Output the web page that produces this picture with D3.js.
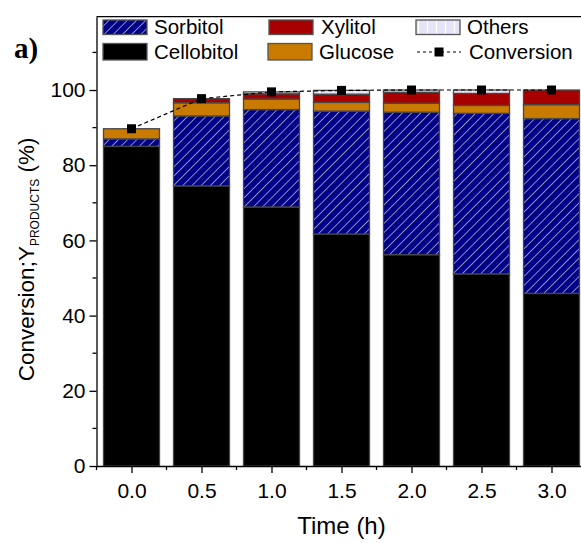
<!DOCTYPE html>
<html>
<head>
<meta charset="utf-8">
<script src="https://cdn.jsdelivr.net/npm/d3@7"></script>
<style>
  html, body { margin: 0; padding: 0; background: #fff; }
  svg { display: block; font-family: "Liberation Sans", Arial, sans-serif; }
</style>
</head>
<body>
<svg id="chart" width="581" height="543"></svg>
<script>
// Reaction time (h) and product yields (%) stacked per time point
const times = [0.0, 0.5, 1.0, 1.5, 2.0, 2.5, 3.0];
const cellobitol = [85.0, 74.5, 68.9, 61.7, 56.2, 51.1, 45.9];
const sorbitol   = [2.0, 18.6, 25.9, 32.7, 37.9, 42.7, 46.5];
const glucose    = [2.7, 3.5, 2.8, 2.3, 2.4, 2.1, 3.7];
const xylitol    = [0.0, 1.1, 1.4, 2.2, 2.9, 3.2, 3.9];
const others     = [0.0, 0.0, 0.5, 1.0, 0.6, 0.9, 0.0];
const conversion = [89.7, 97.7, 99.5, 99.9, 100.0, 100.0, 100.0];

const xTickValues = [0.0, 0.5, 1.0, 1.5, 2.0, 2.5, 3.0];
const yTickValues = [0, 20, 40, 60, 80, 100];

const seriesKeys = ["Cellobitol", "Sorbitol", "Glucose", "Xylitol", "Others"];
const seriesData = { Cellobitol: cellobitol, Sorbitol: sorbitol, Glucose: glucose, Xylitol: xylitol, Others: others };
const fills = {
  Cellobitol: "#000000",
  Sorbitol: "url(#hatchSorbitol)",
  Glucose: "#c97a00",
  Xylitol: "#a80000",
  Others: "url(#hatchOthers)"
};

const rows = times.map((t, i) => {
  const r = { time: t };
  seriesKeys.forEach(k => r[k] = seriesData[k][i]);
  return r;
});

const svg = d3.select("#chart");
const plotLeft = 96.5, plotBottom = 466, plotTop = 16.7, plotRight = 586.5;

const x = d3.scaleLinear().domain([-0.25, 3.25]).range([plotLeft, plotRight]);
const y = d3.scaleLinear().domain([0, 119.5]).range([plotBottom, plotTop]);

// Patterns
const defs = svg.append("defs");
const ps = defs.append("pattern").attr("id", "hatchSorbitol")
  .attr("patternUnits", "userSpaceOnUse").attr("width", 6.5).attr("height", 6.5)
  .attr("patternTransform", "rotate(45)");
ps.append("rect").attr("width", 6.5).attr("height", 6.5).attr("fill", "#000088");
ps.append("line").attr("x1", 0).attr("y1", 0).attr("x2", 0).attr("y2", 6.5)
  .attr("stroke", "#b8b8c8").attr("stroke-width", 1.5);

const po = defs.append("pattern").attr("id", "hatchOthers")
  .attr("patternUnits", "userSpaceOnUse").attr("width", 9).attr("height", 9);
po.append("rect").attr("width", 9).attr("height", 9).attr("fill", "#e4e4f6");
po.append("line").attr("x1", 4.5).attr("y1", 0).attr("x2", 4.5).attr("y2", 9)
  .attr("stroke", "#ffffff").attr("stroke-width", 1.2);

// Stacked bars
const stack = d3.stack().keys(seriesKeys);
const layers = stack(rows);
const barW = x(0.4) - x(0);

svg.append("g").selectAll("g").data(layers).join("g")
  .attr("fill", d => fills[d.key])
  .selectAll("rect").data(d => d.filter(s => s[1] - s[0] > 0)).join("rect")
  .attr("x", d => x(d.data.time) - barW / 2)
  .attr("width", barW)
  .attr("y", d => y(d[1]))
  .attr("height", d => y(d[0]) - y(d[1]))
  .attr("stroke", "#474747")
  .attr("stroke-width", 1.3);

// Conversion line and markers
const line = d3.line().x((d, i) => x(times[i])).y(d => y(d));
svg.append("path").datum(conversion)
  .attr("d", line)
  .attr("fill", "none").attr("stroke", "#000").attr("stroke-width", 1.2)
  .attr("stroke-dasharray", "4,3");
svg.append("g").selectAll("rect").data(conversion).join("rect")
  .attr("x", (d, i) => x(times[i]) - 4.5)
  .attr("y", d => y(d) - 4.5)
  .attr("width", 9).attr("height", 9).attr("fill", "#000");

// Axes
const xAxis = d3.axisBottom(x).tickValues(xTickValues).tickFormat(d3.format(".1f"))
  .tickSize(7).tickSizeOuter(0).tickPadding(10);
const gx = svg.append("g").attr("transform", `translate(0,${plotBottom})`).call(xAxis);
gx.selectAll("text").attr("font-size", 21).attr("fill", "#000")
  .attr("font-family", "Liberation Sans, Arial, sans-serif");
gx.select(".domain").attr("stroke", "#000").attr("stroke-width", 1.3);
gx.selectAll(".tick line").attr("stroke", "#000").attr("stroke-width", 1.3);
// minor x ticks
svg.append("g").selectAll("line").data(d3.range(-0.25, 3.3, 0.5)).join("line")
  .attr("x1", d => x(d)).attr("x2", d => x(d))
  .attr("y1", plotBottom).attr("y2", plotBottom + 4)
  .attr("stroke", "#000").attr("stroke-width", 1.3);

const yAxis = d3.axisLeft(y).tickValues(yTickValues).tickSize(7).tickSizeOuter(0).tickPadding(4);
const gy = svg.append("g").attr("transform", `translate(${plotLeft},0)`).call(yAxis);
gy.selectAll("text").attr("font-size", 21).attr("fill", "#000")
  .attr("font-family", "Liberation Sans, Arial, sans-serif");
gy.select(".domain").attr("stroke", "#000").attr("stroke-width", 1.3);
gy.selectAll(".tick line").attr("stroke", "#000").attr("stroke-width", 1.3);
// minor y ticks
svg.append("g").selectAll("line").data(d3.range(10, 120, 20)).join("line")
  .attr("x1", plotLeft - 4).attr("x2", plotLeft)
  .attr("y1", d => y(d)).attr("y2", d => y(d))
  .attr("stroke", "#000").attr("stroke-width", 1.3);

// Top and right frame lines
svg.append("line").attr("x1", plotLeft).attr("x2", plotRight).attr("y1", plotTop).attr("y2", plotTop)
  .attr("stroke", "#000").attr("stroke-width", 1.3);
svg.append("line").attr("x1", plotRight).attr("x2", plotRight).attr("y1", plotTop).attr("y2", plotBottom)
  .attr("stroke", "#000").attr("stroke-width", 1.3);

// Legend
const legendItems = [
  { label: "Sorbitol",   fill: fills.Sorbitol,   sx: 103, tx: 154, row: 0 },
  { label: "Cellobitol", fill: fills.Cellobitol, sx: 103, tx: 154, row: 1 },
  { label: "Xylitol",    fill: fills.Xylitol,    sx: 269, tx: 321, row: 0 },
  { label: "Glucose",    fill: fills.Glucose,    sx: 268, tx: 319, row: 1 },
  { label: "Others",     fill: fills.Others,     sx: 416, tx: 467, row: 0 }
];
const rowBox = [[20, 34.5], [43.5, 60]];
const rowBase = [33.5, 58.5];
const lg = svg.append("g");
legendItems.forEach(it => {
  lg.append("rect").attr("x", it.sx).attr("y", rowBox[it.row][0])
    .attr("width", 44).attr("height", rowBox[it.row][1] - rowBox[it.row][0])
    .attr("fill", it.fill).attr("stroke", "#555").attr("stroke-width", 1.3);
  lg.append("text").attr("x", it.tx).attr("y", rowBase[it.row])
    .attr("font-size", 20.5).attr("fill", "#000").text(it.label);
});
lg.append("line").attr("x1", 417).attr("x2", 461).attr("y1", 52).attr("y2", 52)
  .attr("stroke", "#000").attr("stroke-width", 1.2).attr("stroke-dasharray", "3,3");
lg.append("rect").attr("x", 434.5).attr("y", 47.5).attr("width", 9).attr("height", 9).attr("fill", "#000");
lg.append("text").attr("x", 469).attr("y", rowBase[1]).attr("font-size", 20.5).attr("fill", "#000").text("Conversion");

// Axis titles
svg.append("text").attr("x", x(1.5)).attr("y", 534).attr("text-anchor", "middle")
  .attr("font-size", 24).attr("fill", "#000").text("Time (h)");

const yt = svg.append("text")
  .attr("transform", `translate(34,${(plotBottom + plotTop) / 2 + 18}) rotate(-90)`)
  .attr("text-anchor", "middle").attr("font-size", 22.5).attr("fill", "#000");
yt.append("tspan").text("Conversion;Y");
yt.append("tspan").attr("font-size", 12).attr("dy", 5).text("PRODUCTS");
yt.append("tspan").attr("dy", -5).text(" (%)");

// Panel label
svg.append("text").attr("x", 14).attr("y", 58)
  .attr("font-family", "Liberation Serif, Times New Roman, serif")
  .attr("font-weight", "bold").attr("font-size", 29).attr("fill", "#000").text("a)");
</script>
</body>
</html>
